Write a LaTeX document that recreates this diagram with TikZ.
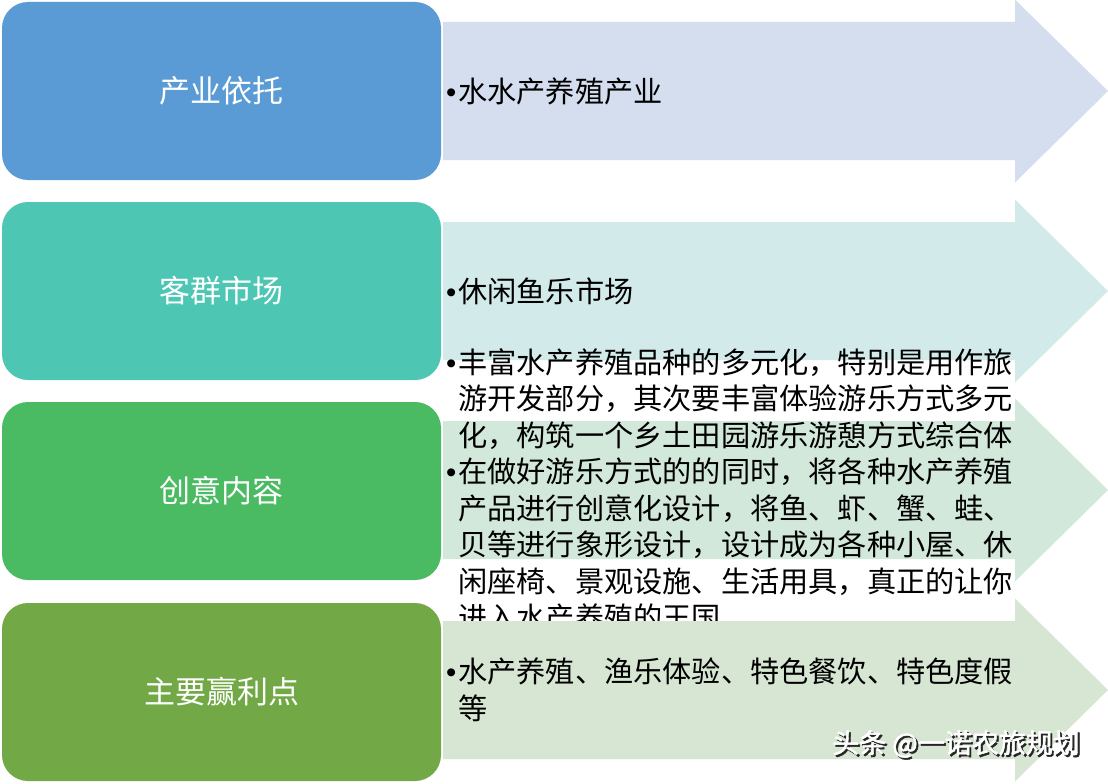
\documentclass[tikz,border=0pt]{standalone}
\usepackage{fontspec}
\newfontfamily\cjk{Noto Sans CJK SC}
\newfontfamily\cjkmark[FakeBold=1.5]{Noto Sans CJK SC}
\newfontfamily\latin{Liberation Sans}
\definecolor{blueA}{HTML}{5B9BD5}
\definecolor{tealA}{HTML}{4DC6B4}
\definecolor{greenA}{HTML}{4BBB63}
\definecolor{oliveA}{HTML}{72A946}
\definecolor{blueB}{HTML}{D5DEEF}
\definecolor{tealB}{HTML}{D3EAEA}
\definecolor{greenB}{HTML}{D2E8DA}
\definecolor{oliveB}{HTML}{D7E6D3}
\newcommand{\bul}{\makebox[13pt][l]{\kern1pt\latin •}}
\newcommand{\ind}{\hspace*{13pt}}
\newcommand{\shadowed}[1]{\makebox[0pt][l]{\kern2pt\raisebox{-2pt}{\color{black!85}#1}}{\color{white}#1}}

\begin{document}
\begin{tikzpicture}[x=1pt,y=-1pt,
    catbox/.style={fill=#1,rounded corners=26pt,minimum width=439pt,minimum height=178pt,inner sep=0pt,text=white,font=\cjk\fontsize{31}{36}\selectfont},
    items/.style={anchor=west,inner sep=0pt,align=left,font=\cjk\fontsize{29.2}{36.5}\selectfont}]
  \useasboundingbox (0,0) rectangle (1108,784);
  \fill[white] (0,0) rectangle (1108,784);
  % left column
  \node[catbox=blueA] (dep) at (221.5,91) {产业依托};
  \node[catbox=tealA] (mkt) at (221.5,291) {客群市场};
  \node[catbox=greenA] (idea) at (221.5,491) {创意内容};
  \node[catbox=oliveA] (gain) at (221.5,692) {主要赢利点};
  % arrows, each one drawn after the text above it
  \foreach \yc/\col/\name/\items in {
      91/blueB/dep/{\bul 水水产养殖产业},
      291/tealB/mkt/{\bul 休闲鱼乐市场},
      490/greenB/idea/{\bul 丰富水产养殖品种的多元化，特别是用作旅\\\ind 游开发部分，其次要丰富体验游乐方式多元\\\ind 化，构筑一个乡土田园游乐游憩方式综合体\\\bul 在做好游乐方式的的同时，将各种水产养殖\\\ind 产品进行创意化设计，将鱼、虾、蟹、蛙、\\\ind 贝等进行象形设计，设计成为各种小屋、休\\\ind 闲座椅、景观设施、生活用具，真正的让你\\\ind 进入水产养殖的王国},
      690/oliveB/gain/{\bul 水产养殖、渔乐体验、特色餐饮、特色度假\\\ind 等}}{
    \fill[\col] (443,\yc-69) -- (1015,\yc-69) -- (1015,\yc-91.5) -- (1108,\yc)
      -- (1015,\yc+91.5) -- (1015,\yc+69) -- (443,\yc+69) -- cycle;
    \node[items] (\name-txt) at (445,\yc) {\items};
  }
  \node[font=\cjkmark\fontsize{27}{30}\selectfont,inner sep=0pt] (mark) at (956,745) {\shadowed{头条 @一诺农旅规划}};
\end{tikzpicture}
\end{document}
